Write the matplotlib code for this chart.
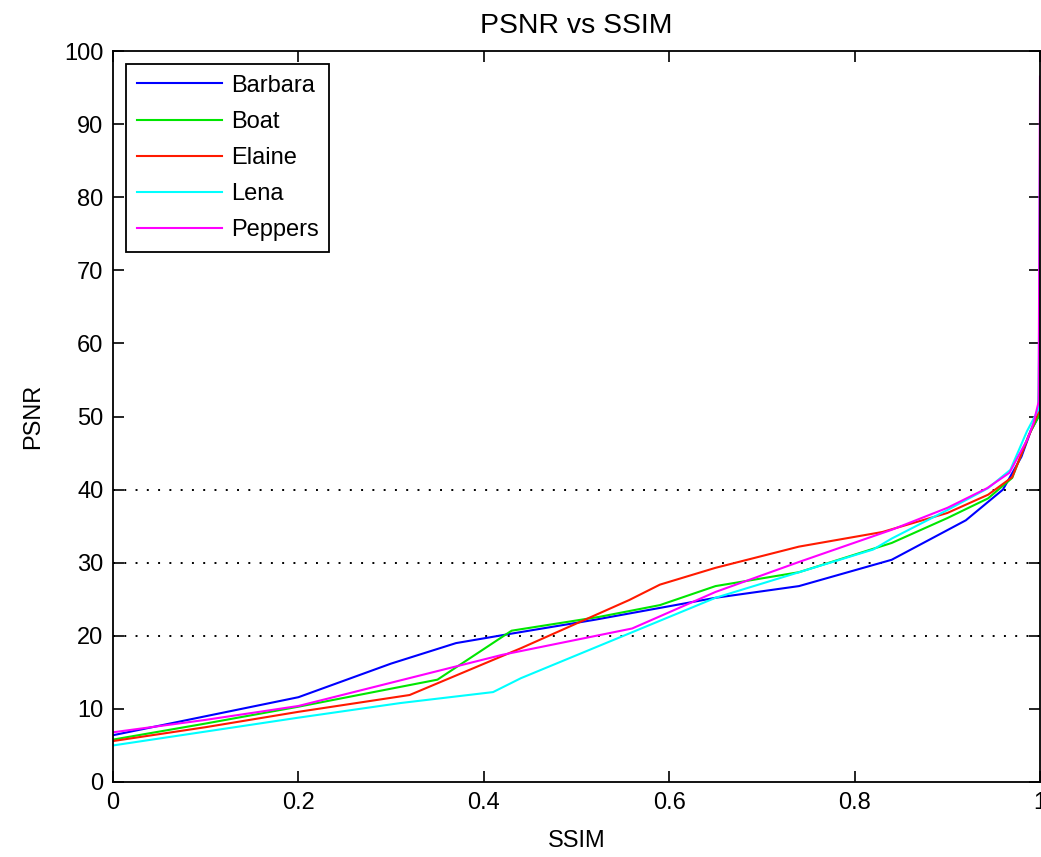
import numpy as np
import matplotlib
matplotlib.use("Agg")
import matplotlib.pyplot as plt

# -------------------------------
# Data
# -------------------------------
barbara_ssim = [0.0, 0.10, 0.20, 0.30, 0.37, 0.43, 0.52, 0.65, 0.74, 0.84, 0.92, 0.96, 0.98, 0.99, 0.9985, 1.0]
barbara_psnr = [6.4, 9.0, 11.6, 16.2, 19.0, 20.3, 22.2, 25.2, 26.8, 30.4, 35.8, 40.0, 44.5, 48.0, 50.0, 62.0]

boat_ssim = [0.0, 0.10, 0.20, 0.35, 0.43, 0.525, 0.59, 0.65, 0.74, 0.84, 0.90, 0.944, 0.97, 0.988, 0.9985, 1.0]
boat_psnr = [5.8, 8.0, 10.3, 14.0, 20.7, 22.6, 24.2, 26.8, 28.7, 32.7, 36.1, 38.8, 41.6, 47.5, 50.0, 75.0]

elaine_ssim = [0.0, 0.10, 0.20, 0.32, 0.44, 0.557, 0.59, 0.65, 0.74, 0.83, 0.90, 0.944, 0.97, 0.99, 0.998, 1.0]
elaine_psnr = [5.6, 7.5, 9.6, 11.9, 18.3, 24.9, 27.0, 29.3, 32.2, 34.2, 36.8, 39.3, 41.7, 48.0, 50.5, 52.5]

lena_ssim = [0.0, 0.10, 0.20, 0.31, 0.41, 0.44, 0.65, 0.82, 0.84, 0.90, 0.944, 0.968, 0.986, 0.9985, 1.0]
lena_psnr = [5.0, 6.9, 8.8, 10.8, 12.3, 14.2, 25.2, 31.8, 33.3, 37.2, 40.2, 42.7, 48.0, 51.0, 85.0]

peppers_ssim = [0.0, 0.10, 0.20, 0.31, 0.42, 0.56, 0.65, 0.74, 0.84, 0.90, 0.943, 0.967, 0.986, 0.993, 0.9985, 1.0]
peppers_psnr = [6.8, 8.5, 10.4, 13.9, 17.4, 21.0, 26.0, 30.1, 34.5, 37.5, 40.2, 42.3, 46.8, 49.1, 52.0, 96.5]

ref_levels = [20, 30, 40]
xticks = [0, 0.2, 0.4, 0.6, 0.8, 1.0]
xtick_labels = ["0", "0.2", "0.4", "0.6", "0.8", "1"]
yticks = list(range(0, 101, 10))

# -------------------------------
# Plot
# -------------------------------
plt.rcParams["font.family"] = ["Liberation Sans", "DejaVu Sans"]
plt.rcParams["font.size"] = 17

fig = plt.figure(figsize=(10.41, 8.57), dpi=100)
ax = fig.add_axes([113 / 1041, 75 / 857, 927 / 1041, 731 / 857])

for lvl in ref_levels:
    ax.axhline(lvl, color="black", linewidth=1.4, linestyle=(0, (1, 4.8)), zorder=1)

lw = 1.5
ax.plot(barbara_ssim, barbara_psnr, color=(0.0, 0.0, 1.0), linewidth=lw, label="Barbara")
ax.plot(boat_ssim, boat_psnr, color=(0.0, 0.9, 0.0), linewidth=lw, label="Boat")
ax.plot(elaine_ssim, elaine_psnr, color=(1.0, 0.1, 0.0), linewidth=lw, label="Elaine")
ax.plot(lena_ssim, lena_psnr, color=(0.0, 1.0, 1.0), linewidth=lw, label="Lena")
ax.plot(peppers_ssim, peppers_psnr, color=(1.0, 0.0, 1.0), linewidth=lw, label="Peppers")

ax.set_xlim(0, 1)
ax.set_ylim(0, 100)
ax.set_xticks(xticks)
ax.set_xticklabels(xtick_labels)
ax.set_yticks(yticks)
ax.tick_params(direction="in", length=8, width=1.2, top=True, right=True, pad=7)
for sp in ax.spines.values():
    sp.set_linewidth(1.3)

ax.set_title("PSNR vs SSIM", pad=13)
ax.set_xlabel("SSIM", labelpad=12)
ax.set_ylabel("PSNR", labelpad=14)

leg = ax.legend(loc="upper left", fancybox=False, edgecolor="black", framealpha=1,
                handlelength=3.6, handletextpad=0.4, labelspacing=0.6,
                borderpad=0.45, borderaxespad=0.55)
leg.get_frame().set_linewidth(1.3)

fig.savefig("out.png", dpi=100)
